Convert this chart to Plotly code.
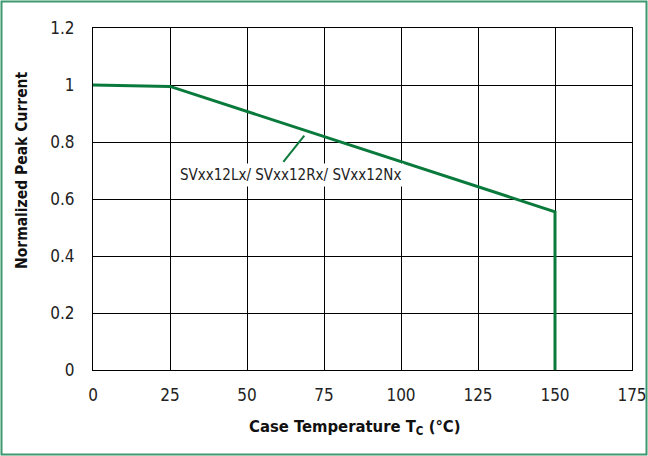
import plotly.graph_objects as go

temps = [0, 25, 150, 150]
current = [1.0, 0.995, 0.555, 0.0]
label = "SVxx12Lx/ SVxx12Rx/ SVxx12Nx"
x_title = "Case Temperature T<sub>C</sub> (°C)"
y_title = "Normalized Peak Current"
x_ticks = [0, 25, 50, 75, 100, 125, 150, 175]
y_ticks = [0, 0.2, 0.4, 0.6, 0.8, 1.0, 1.2]
y_tick_text = ["0", "0.2", "0.4", "0.6", "0.8", "1", "1.2"]

FONT = "Liberation Sans Narrow, DejaVu Sans Condensed, Arial Narrow, sans-serif"
GREEN = "#0a7a3c"

fig = go.Figure()
fig.add_trace(go.Scatter(x=temps, y=current, mode="lines",
                         line=dict(color=GREEN, width=3), showlegend=False))
# leader line
fig.add_trace(go.Scatter(x=[61.8, 68.6], y=[0.73, 0.822], mode="lines",
                         line=dict(color=GREEN, width=2), showlegend=False))
fig.add_annotation(x=64, y=0.684, text=label, showarrow=False,
                   font=dict(family=FONT, size=15, color="#222"),
                   bgcolor="white", borderpad=2)

W, H = 648, 456
L, R, T, B = 93, 16, 28, 86
pw, ph = W - L - R, H - T - B
fig.add_shape(type="rect", xref="paper", yref="paper",
              x0=(1.5 - L) / pw, x1=(W - 1.5 - L) / pw,
              y0=-(H - 1.5 - T - ph) / ph, y1=1 + (T - 1.5) / ph,
              line=dict(color="#3c9a6e", width=2), layer="below")

# axis titles as positioned annotations
fig.add_annotation(xref="paper", yref="paper", x=(355 - L) / pw, y=-(427 - (T + ph)) / ph,
                   text=x_title, showarrow=False, xanchor="center", yanchor="middle",
                   font=dict(family=FONT, size=16.5, weight="bold", color="#111"))
fig.add_annotation(xref="paper", yref="paper", x=(22 - L) / pw, y=(T + ph - 170) / ph,
                   text=y_title, showarrow=False, textangle=-90,
                   xanchor="center", yanchor="middle",
                   font=dict(family=FONT, size=15.5, weight="bold", color="#111"))

fig.update_layout(
    width=W, height=H,
    margin=dict(l=L, r=R, t=T, b=B),
    plot_bgcolor="white", paper_bgcolor="white",
    font=dict(family=FONT, size=17, color="#222"),
    xaxis=dict(range=[0, 175], tickvals=x_ticks, showgrid=True, gridcolor="black",
               gridwidth=1, showline=True, linecolor="black", linewidth=1, mirror=True,
               zeroline=False, ticks="", automargin=False, ticklabelstandoff=10),
    yaxis=dict(range=[0, 1.2], tickvals=y_ticks, ticktext=y_tick_text, showgrid=True,
               gridcolor="black", gridwidth=1, showline=True, linecolor="black",
               linewidth=1, mirror=True, zeroline=False, ticks="", automargin=False,
               ticklabelstandoff=14),
)
fig.write_html("out.html", config={"displayModeBar": False},
               post_script="document.body.style.margin='0';")
